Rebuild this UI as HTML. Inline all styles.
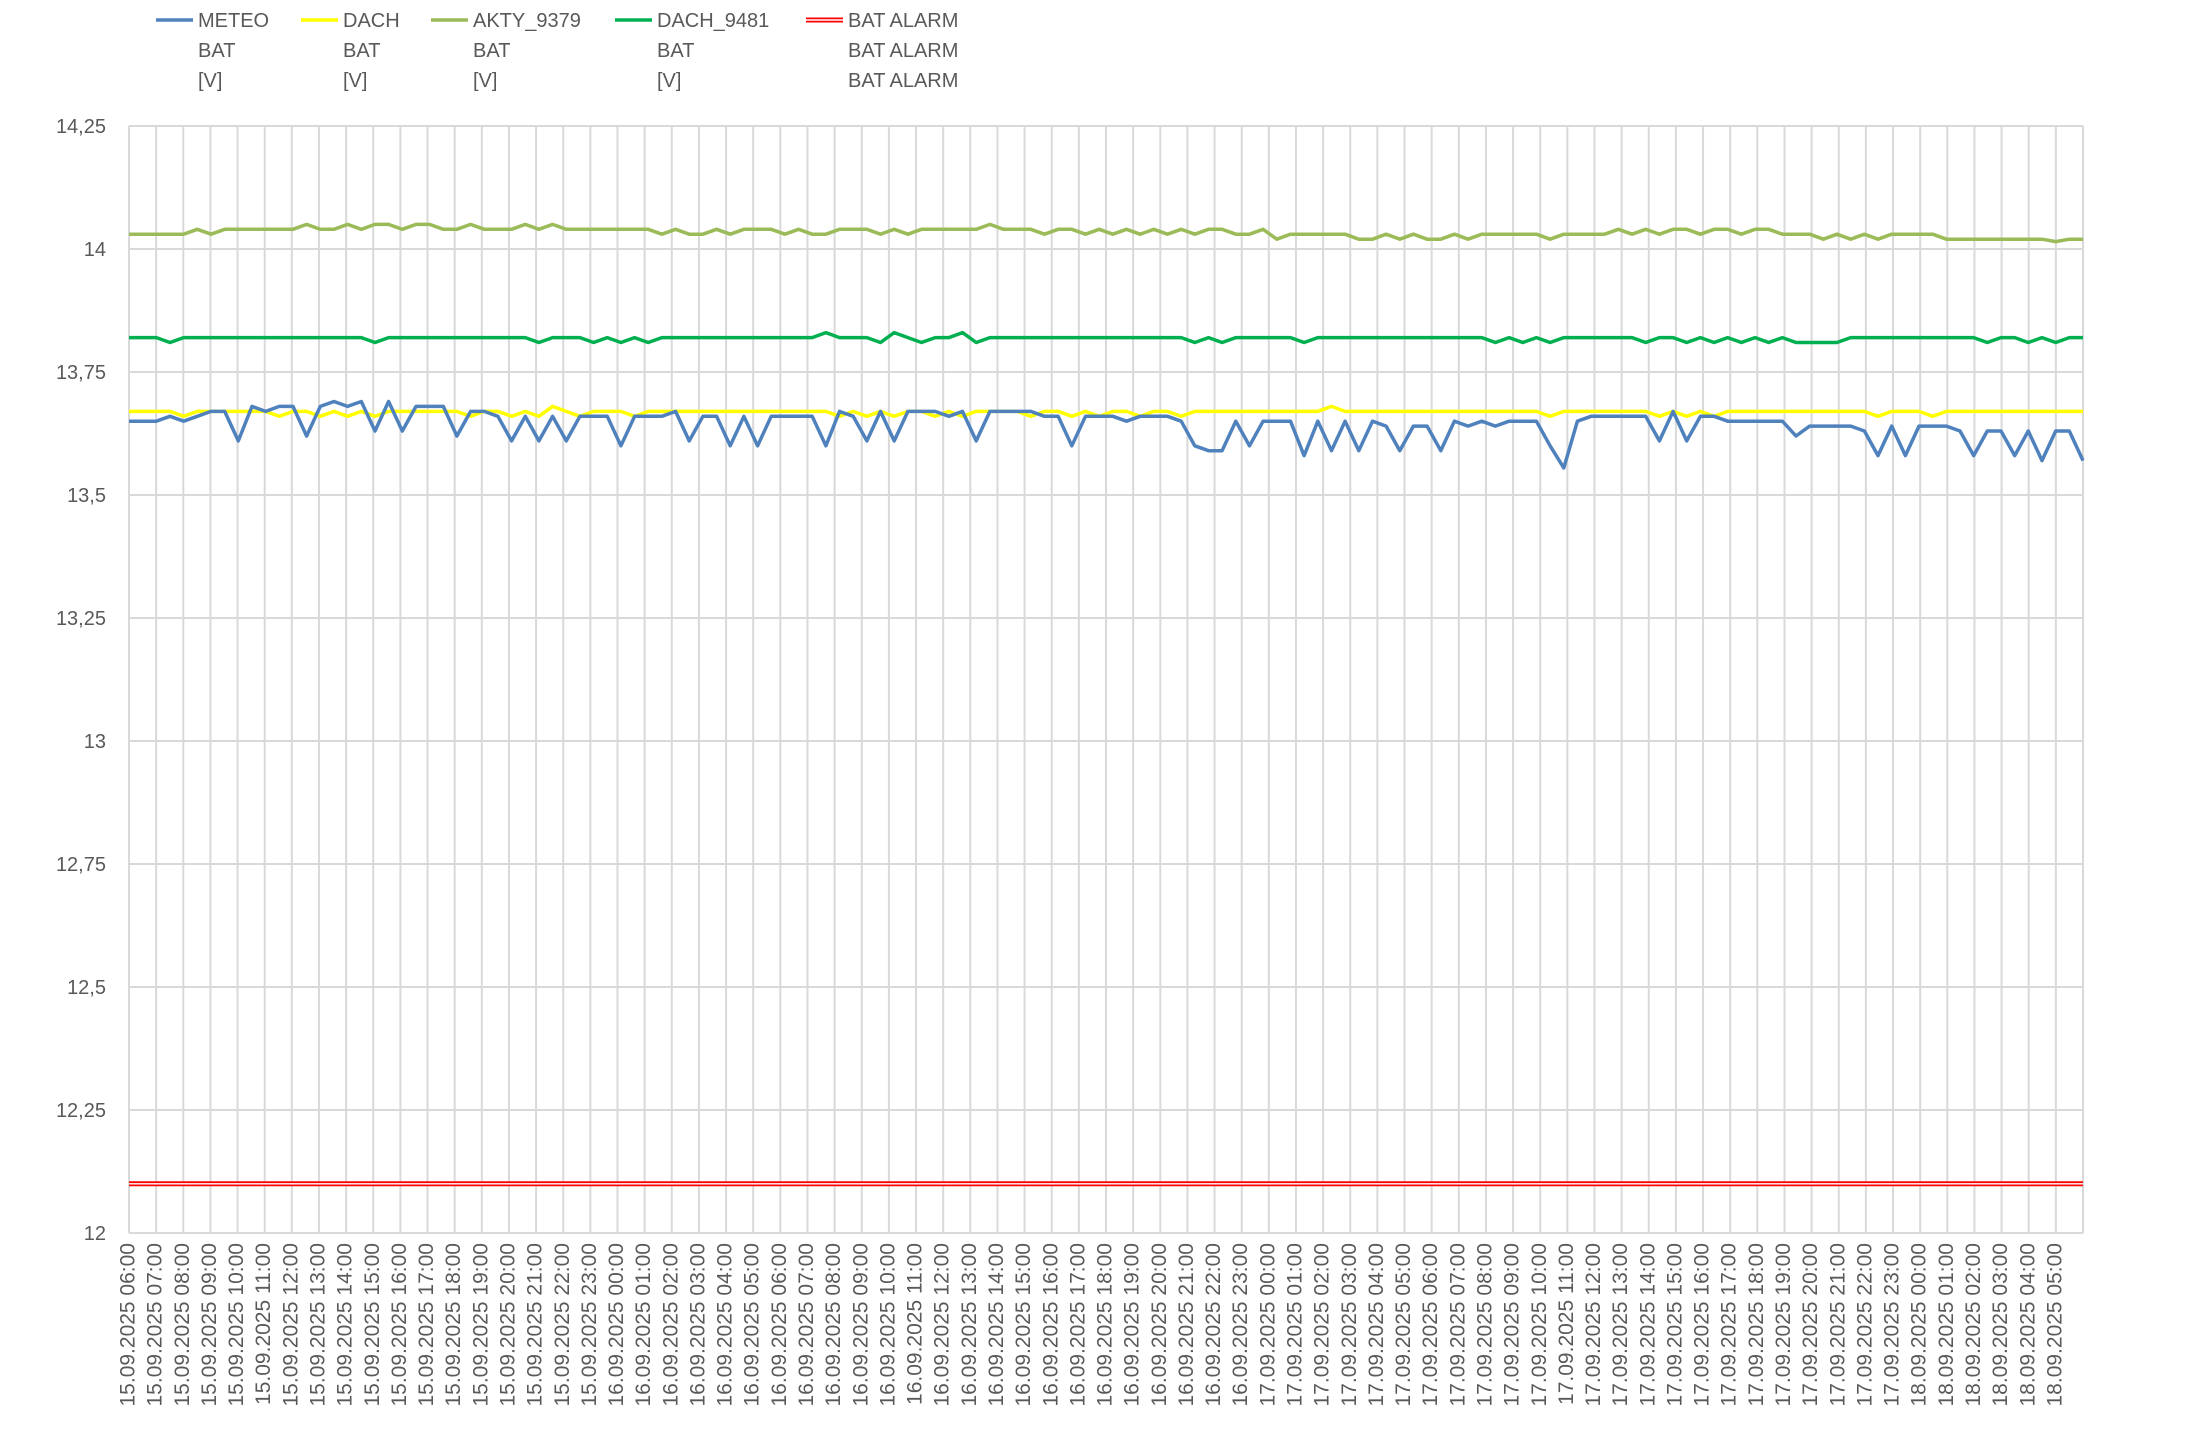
<!DOCTYPE html>
<html><head><meta charset="utf-8"><style>
html,body{margin:0;padding:0;background:#fff;}
svg{display:block;font-family:"Liberation Sans",sans-serif;}
</style></head><body>
<svg id="chart" width="2196" height="1435" viewBox="0 0 2196 1435" xmlns="http://www.w3.org/2000/svg">
<g id="grid"></g>
<g id="series"></g>
<g id="yaxis"></g>
<g id="xaxis"></g>
<g id="legend"></g>
</svg>
<script>
const days = ["15.09.2025","16.09.2025","17.09.2025","18.09.2025"];
const yTicks = [12,12.25,12.5,12.75,13,13.25,13.5,13.75,14,14.25];
const yTickLabels = ["12","12,25","12,5","12,75","13","13,25","13,5","13,75","14","14,25"];
const meteo = [
13.65,13.65,13.65,13.66,13.65,13.66,13.67,13.67,13.61,13.68,13.67,13.68,13.68,13.62,13.68,13.69,13.68,13.69,13.63,13.69,13.63,13.68,13.68,13.68,13.62,13.67,13.67,13.66,13.61,13.66,13.61,13.66,13.61,13.66,13.66,13.66,
13.60,13.66,13.66,13.66,13.67,13.61,13.66,13.66,13.60,13.66,13.60,13.66,13.66,13.66,13.66,13.60,13.67,13.66,13.61,13.67,13.61,13.67,13.67,13.67,13.66,13.67,13.61,13.67,13.67,13.67,13.67,13.66,13.66,13.60,13.66,13.66,13.66,13.65,13.66,13.66,13.66,13.65,13.60,13.59,13.59,13.65,13.60,13.65,
13.65,13.65,13.58,13.65,13.59,13.65,13.59,13.65,13.64,13.59,13.64,13.64,13.59,13.65,13.64,13.65,13.64,13.65,13.65,13.65,13.60,13.555,13.65,13.66,13.66,13.66,13.66,13.66,13.61,13.67,13.61,13.66,13.66,13.65,13.65,13.65,13.65,13.65,13.62,13.64,13.64,13.64,13.64,13.63,13.58,13.64,13.58,13.64,
13.64,13.64,13.63,13.58,13.63,13.63,13.58,13.63,13.57,13.63,13.63,13.57];
const dach = [
13.67,13.67,13.67,13.67,13.66,13.67,13.67,13.67,13.67,13.67,13.67,13.66,13.67,13.67,13.66,13.67,13.66,13.67,13.66,13.67,13.67,13.67,13.67,13.67,13.67,13.66,13.67,13.67,13.66,13.67,13.66,13.68,13.67,13.66,13.67,13.67,
13.67,13.66,13.67,13.67,13.67,13.67,13.67,13.67,13.67,13.67,13.67,13.67,13.67,13.67,13.67,13.67,13.66,13.67,13.66,13.67,13.66,13.67,13.67,13.66,13.67,13.66,13.67,13.67,13.67,13.67,13.66,13.67,13.67,13.66,13.67,13.66,13.67,13.67,13.66,13.67,13.67,13.66,13.67,13.67,13.67,13.67,13.67,13.67,
13.67,13.67,13.67,13.67,13.68,13.67,13.67,13.67,13.67,13.67,13.67,13.67,13.67,13.67,13.67,13.67,13.67,13.67,13.67,13.67,13.66,13.67,13.67,13.67,13.67,13.67,13.67,13.67,13.66,13.67,13.66,13.67,13.66,13.67,13.67,13.67,13.67,13.67,13.67,13.67,13.67,13.67,13.67,13.67,13.66,13.67,13.67,13.67,
13.66,13.67,13.67,13.67,13.67,13.67,13.67,13.67,13.67,13.67,13.67,13.67];
const akty = [
14.03,14.03,14.03,14.03,14.03,14.04,14.03,14.04,14.04,14.04,14.04,14.04,14.04,14.05,14.04,14.04,14.05,14.04,14.05,14.05,14.04,14.05,14.05,14.04,14.04,14.05,14.04,14.04,14.04,14.05,14.04,14.05,14.04,14.04,14.04,14.04,
14.04,14.04,14.04,14.03,14.04,14.03,14.03,14.04,14.03,14.04,14.04,14.04,14.03,14.04,14.03,14.03,14.04,14.04,14.04,14.03,14.04,14.03,14.04,14.04,14.04,14.04,14.04,14.05,14.04,14.04,14.04,14.03,14.04,14.04,14.03,14.04,14.03,14.04,14.03,14.04,14.03,14.04,14.03,14.04,14.04,14.03,14.03,14.04,
14.02,14.03,14.03,14.03,14.03,14.03,14.02,14.02,14.03,14.02,14.03,14.02,14.02,14.03,14.02,14.03,14.03,14.03,14.03,14.03,14.02,14.03,14.03,14.03,14.03,14.04,14.03,14.04,14.03,14.04,14.04,14.03,14.04,14.04,14.03,14.04,14.04,14.03,14.03,14.03,14.02,14.03,14.02,14.03,14.02,14.03,14.03,14.03,
14.03,14.02,14.02,14.02,14.02,14.02,14.02,14.02,14.02,14.015,14.02,14.02];
const dach9481 = [
13.82,13.82,13.82,13.81,13.82,13.82,13.82,13.82,13.82,13.82,13.82,13.82,13.82,13.82,13.82,13.82,13.82,13.82,13.81,13.82,13.82,13.82,13.82,13.82,13.82,13.82,13.82,13.82,13.82,13.82,13.81,13.82,13.82,13.82,13.81,13.82,
13.81,13.82,13.81,13.82,13.82,13.82,13.82,13.82,13.82,13.82,13.82,13.82,13.82,13.82,13.82,13.83,13.82,13.82,13.82,13.81,13.83,13.82,13.81,13.82,13.82,13.83,13.81,13.82,13.82,13.82,13.82,13.82,13.82,13.82,13.82,13.82,13.82,13.82,13.82,13.82,13.82,13.82,13.81,13.82,13.81,13.82,13.82,13.82,
13.82,13.82,13.81,13.82,13.82,13.82,13.82,13.82,13.82,13.82,13.82,13.82,13.82,13.82,13.82,13.82,13.81,13.82,13.81,13.82,13.81,13.82,13.82,13.82,13.82,13.82,13.82,13.81,13.82,13.82,13.81,13.82,13.81,13.82,13.81,13.82,13.81,13.82,13.81,13.81,13.81,13.81,13.82,13.82,13.82,13.82,13.82,13.82,
13.82,13.82,13.82,13.82,13.81,13.82,13.82,13.81,13.82,13.81,13.82,13.82];
const batAlarm = [12.1,12.1];

const NS="http://www.w3.org/2000/svg";
const X0=129, X1=2083, Y0=1233, Y1=126, YMIN=12, YMAX=14.25, NCAT=72;
function yScale(v){return Y0-(v-YMIN)/(YMAX-YMIN)*(Y0-Y1);}
function catX(i){return X0+i*(X1-X0)/NCAT;}
function ptX(i,n){return X0+i*(X1-X0)/(n-1);}
function mk(tag,attrs,parent){const e=document.createElementNS(NS,tag);for(const k in attrs)e.setAttribute(k,attrs[k]);parent.appendChild(e);return e;}

const grid=document.getElementById('grid');
yTicks.forEach(function(t){
  const l=mk('line',{x1:X0,x2:X1,y1:yScale(t),y2:yScale(t),stroke:'#d9d9d9','stroke-width':2},grid);
  
  
});
for(let i=0;i<=NCAT;i++){
  const l=mk('line',{x1:catX(i),x2:catX(i),y1:Y1,y2:Y0,stroke:'#d9d9d9','stroke-width':2},grid);
  
  
}
const ya=document.getElementById('yaxis');
yTicks.forEach(function(t,i){
  const tx=mk('text',{x:106,y:yScale(t)+7,'text-anchor':'end','font-size':20,fill:'#595959'},ya);
  tx.textContent=yTickLabels[i];
  
  
});
const xa=document.getElementById('xaxis');
const xLabels=[];
for(let k=0;k<NCAT;k++){const h=(6+k)%24;const d=Math.floor((6+k)/24);xLabels.push(days[d]+" "+(h<10?"0":"")+h+":00");}
xLabels.forEach(function(s,i){
  const x=catX(i), y=1243;
  const tx=mk('text',{x:x,y:y,transform:'rotate(-90 '+x+' '+y+')','text-anchor':'end','dominant-baseline':'middle','font-size':21,fill:'#595959'},xa);
  tx.textContent=s;
  
  
});
const sg=document.getElementById('series');
function drawSeries(arr,color,name){
  const pts=arr.map(function(v,i){return ptX(i,arr.length).toFixed(1)+','+yScale(v).toFixed(1);}).join(' ');
  const p=mk('polyline',{points:pts,fill:'none',stroke:color,'stroke-width':3.5,'stroke-linejoin':'round'},sg);
  
  
}
drawSeries(akty,'#9bbb59','akty-9379-line');
drawSeries(dach9481,'#00b050','dach-9481-line');
drawSeries(dach,'#ffff00','dach-line');
drawSeries(meteo,'#4f81bd','meteo-line');
const a1=mk('polyline',{points:batAlarm.map(function(v,i){return ptX(i,batAlarm.length)+','+yScale(v);}).join(' '),fill:'none',stroke:'#ff0000','stroke-width':5},sg);


const a2=mk('polyline',{points:batAlarm.map(function(v,i){return ptX(i,batAlarm.length)+','+yScale(v);}).join(' '),fill:'none',stroke:'#ffffff','stroke-width':1.4},sg);



const lg=document.getElementById('legend');
const legendItems=[
 {x:156,c:'#4f81bd',lines:['METEO','BAT','[V]'],n:'legend-meteo'},
 {x:301,c:'#ffff00',lines:['DACH','BAT','[V]'],n:'legend-dach'},
 {x:431,c:'#9bbb59',lines:['AKTY_9379','BAT','[V]'],n:'legend-akty-9379'},
 {x:615,c:'#00b050',lines:['DACH_9481','BAT','[V]'],n:'legend-dach-9481'},
 {x:806,c:'#ff0000',lines:['BAT ALARM','BAT ALARM','BAT ALARM'],n:'legend-bat-alarm'}
];
legendItems.forEach(function(it){
  const g=mk('g',{},lg);
  
  
  mk('line',{x1:it.x,x2:it.x+37,y1:20,y2:20,stroke:it.c,'stroke-width':it.c==='#ff0000'?5:3.5},g);
  if(it.c==='#ff0000')mk('line',{x1:it.x,x2:it.x+37,y1:20,y2:20,stroke:'#fff','stroke-width':1.4},g);
  it.lines.forEach(function(s,j){
    const t=mk('text',{x:it.x+42,y:27+j*30,'font-size':20,fill:'#595959'},g);
    t.textContent=s;
  });
});
</script>
</body></html>
